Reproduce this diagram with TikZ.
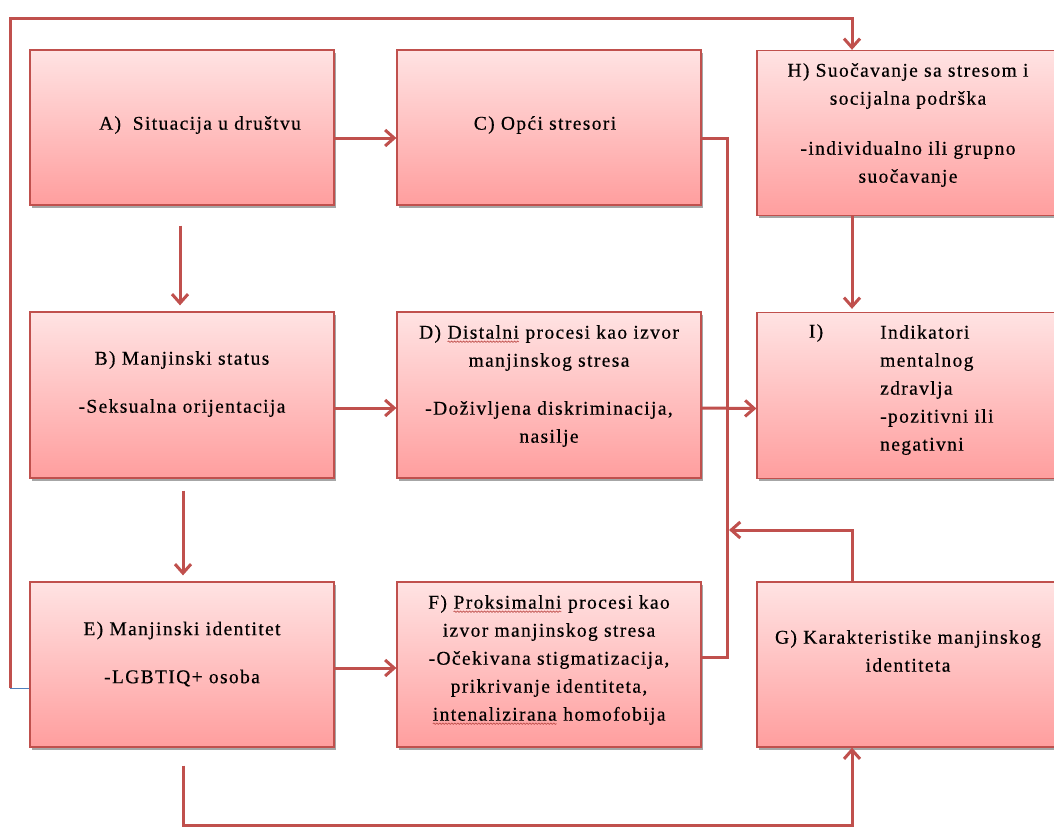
\documentclass[tikz,border=0pt]{standalone}
\usepackage{fontspec}
\setmainfont[LetterSpace=7,FakeBold=0.4]{Liberation Serif}
\usetikzlibrary{arrows.meta,shadows,decorations.pathmorphing}
\definecolor{lr}{HTML}{C0504D}
\definecolor{ptop}{HTML}{FFE3E3}
\definecolor{pbot}{HTML}{FF9E9E}
\definecolor{stubblue}{HTML}{4F81BD}
\newcommand{\sqg}[1]{\tikz[baseline=(w.base)]{\node[inner sep=0pt,outer sep=0pt,anchor=base](w){#1};\draw[lr,line width=0.7pt,decorate,decoration={snake,amplitude=0.7pt,segment length=3pt}]([yshift=-3pt]w.base west)--([yshift=-3pt]w.base east);}}
\begin{document}
\begin{tikzpicture}[x=1pt,y=-1pt,
  box/.style={draw=lr,line width=1.3pt,top color=ptop,bottom color=pbot,minimum width=304pt,minimum height=155pt,inner sep=0pt,
    drop shadow={shadow xshift=2pt,shadow yshift=-2.5pt,opacity=0.35,fill=black}},
  lbl/.style={font=\fontsize{19.5}{28}\selectfont,align=center,inner sep=0pt,text=black},
  conn/.style={lr,line width=3pt},
  arr/.style={conn,-{Straight Barb[length=9pt,width=16pt]}}]
\useasboundingbox (0,0) rectangle (1054,827);
\fill[white] (0,0) rectangle (1054,827);
% boxes
\node[box] (A) at (182,127.5) {};
\node[box] (C) at (549,127.5) {};
\node[box,minimum width=305pt,minimum height=165pt] (H) at (909.5,133) {};
\node[box,minimum height=166pt] (B) at (182,395) {};
\node[box,minimum height=166pt] (D) at (549,395) {};
\node[box,minimum width=305pt,minimum height=166pt] (I) at (909.5,395.5) {};
\node[box,minimum height=165pt] (E) at (182,664.5) {};
\node[box,minimum height=165pt] (F) at (549,664.5) {};
\node[box,minimum width=305pt,minimum height=165pt] (G) at (909.5,664.5) {};
% labels
\node[lbl] (tA) at (200,125) {A)\hspace{0.6em}Situacija u društvu};
\node[lbl] (tC) at (545,125) {C) Opći stresori};
\node[lbl] (tH) at (908,125) {H) Suočavanje sa stresom i\\ socijalna podrška\\[22pt] -individualno ili grupno\\ suočavanje};
\node[lbl] (tB) at (182,384) {B) Manjinski status\\[20pt] -Seksualna orijentacija};
\node[lbl] (tD) at (549,386) {D) \sqg{Distalni} procesi kao izvor\\ manjinskog stresa\\[20pt] -Doživljena diskriminacija,\\ nasilje};
\node[lbl] (tIl) at (816,333) {I)};
\node[lbl,align=left,anchor=west] (tI) at (880,390) {Indikatori\\ mentalnog\\ zdravlja\\ -pozitivni ili\\ negativni};
\node[lbl] (tE) at (182,654) {E) Manjinski identitet\\[20pt] -LGBTIQ+ osoba};
\node[lbl] (tF) at (549,660) {F) \sqg{Proksimalni} procesi kao\\ izvor manjinskog stresa\\ -Očekivana stigmatizacija,\\ prikrivanje identiteta,\\ \sqg{intenalizirana} homofobija};
\node[lbl] (tG) at (908,651) {G) Karakteristike manjinskog\\ identiteta};
% connectors
\draw[arr] ([xshift=-2pt,yshift=-20pt]A.south) -- ([xshift=-2pt,yshift=6pt]B.north);
\draw[arr] ([xshift=1pt,yshift=-12pt]B.south) -- ([xshift=1pt,yshift=6pt]E.north);
\draw[arr] ([yshift=-10.5pt]A.east) -- ([yshift=-10.5pt]C.west);
\draw[arr] ([yshift=-13pt]B.east) -- ([yshift=-13pt]D.west);
\draw[arr] ([yshift=-3.5pt]E.east) -- ([yshift=-3.5pt]F.west);
\draw[arr] ([yshift=-13pt]D.east) -- ([yshift=-13pt]I.west);
\coordinate (cTop) at (727,138);
\coordinate (cBot) at (727,657);
\draw[conn] ([yshift=-10.5pt]C.east) -- (cTop) -- (cBot) -- ([yshift=7.5pt]F.east);
\coordinate (gTurn) at (852,530);
\coordinate (gEnd) at (729,530);
\draw[arr] ([xshift=-57.5pt]G.north) -- (gTurn) -- (gEnd);
\draw[arr] ([xshift=-57.5pt]H.south) -- ([xshift=-57.5pt,yshift=3pt]I.north);
\coordinate (t1) at (10,688);
\coordinate (t2) at (10,18);
\coordinate (t3) at (852,18);
\draw[stubblue,line width=1pt] ([yshift=-23.5pt]E.west) -- (t1);
\draw[arr] (t1) -- (t2) -- (t3) -- ([xshift=-57.5pt]H.north);
\coordinate (b2) at (183,825);
\coordinate (b3) at (852,825);
\draw[arr] ([xshift=1pt,yshift=-18pt]E.south) -- (b2) -- (b3) -- ([xshift=-57.5pt]G.south);
\end{tikzpicture}
\end{document}
